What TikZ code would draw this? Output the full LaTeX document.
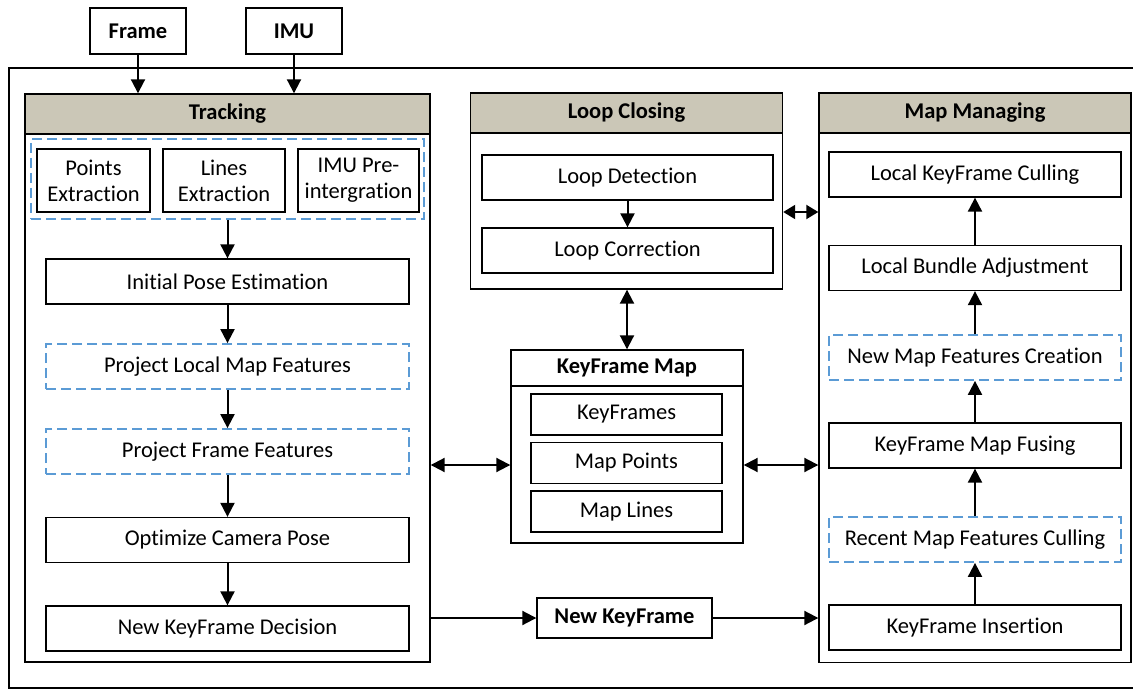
\documentclass[tikz,border=0pt]{standalone}
\usepackage{fontspec}
\setmainfont{Carlito}[Ligatures=NoCommon]
\usetikzlibrary{arrows.meta}
\definecolor{hdr}{RGB}{203,199,183}
\definecolor{dblue}{RGB}{91,155,213}
\tikzset{
  base/.style={rectangle, inner sep=0pt, font=\fontsize{22.5}{26}\selectfont, align=center},
  sbox/.style={base, draw=black, line width=1.3pt, fill=white},
  dbox/.style={base, draw=dblue, line width=1.8pt, dash pattern=on 10pt off 5pt},
  cont/.style={base, draw=black, line width=1.4pt},
  hbox/.style={base, draw=black, line width=1.4pt, fill=hdr, font=\fontsize{22.5}{26}\selectfont\bfseries},
  bbox/.style={base, draw=black, line width=1.4pt, font=\fontsize{22.5}{26}\selectfont\bfseries},
  arr/.style={line width=2pt, -{Triangle[length=14pt,width=14pt]}},
  darr/.style={line width=2pt, {Triangle[length=14pt,width=14pt]}-{Triangle[length=14pt,width=14pt]}},
  sdarr/.style={line width=2pt, {Triangle[length=12pt,width=14pt]}-{Triangle[length=12pt,width=14pt]}}
}
\begin{document}
\begin{tikzpicture}[x=1pt,y=-1pt]
\useasboundingbox (0,0) rectangle (1133,690);
\clip (0,0) rectangle (1133,690);
% outer frame
\draw[line width=2.4pt] (9,68) rectangle (1160,688);
% inputs
\node[bbox, minimum width=96pt, minimum height=46pt] (frame) at (138,31) {Frame};
\node[bbox, minimum width=96pt, minimum height=46pt] (imu) at (294,31) {IMU};
% Tracking
\node[cont, minimum width=405pt, minimum height=568pt] (trk) at (227.5,378) {};
\node[hbox, minimum width=405pt, minimum height=40pt] (trkh) at (227.5,114) {Tracking};
\node[dbox, minimum width=393pt, minimum height=80pt] (grp) at (227.5,179) {};
\node[sbox, minimum width=113pt, minimum height=63pt] (pts) at (93.5,180.5) {Points\\Extraction};
\node[sbox, minimum width=122pt, minimum height=63pt] (lns) at (224,180.5) {Lines\\Extraction};
\node[sbox, minimum width=121pt, minimum height=63pt] (imup) at (358.5,180.5) {IMU Pre-\\intergration};
\node[sbox, minimum width=363pt, minimum height=45pt] (ipe) at (227.5,281.5) {Initial Pose Estimation};
\node[dbox, minimum width=363pt, minimum height=45pt] (plmf) at (227.5,366.5) {Project Local Map Features};
\node[dbox, minimum width=363pt, minimum height=45pt] (pff) at (227.5,451.5) {Project Frame Features};
\node[sbox, minimum width=363pt, minimum height=45pt] (ocp) at (227.5,540) {Optimize Camera Pose};
\node[sbox, minimum width=363pt, minimum height=45pt] (nkd) at (227.5,628.5) {New KeyFrame Decision};
% Loop Closing
\node[cont, minimum width=312pt, minimum height=196pt] (lcl) at (626.5,191) {};
\node[hbox, minimum width=312pt, minimum height=40pt] (lclh) at (626.5,113) {Loop Closing};
\node[sbox, minimum width=291pt, minimum height=45pt] (ld) at (627.5,177.5) {Loop Detection};
\node[sbox, minimum width=291pt, minimum height=45pt] (lc) at (627.5,250.5) {Loop Correction};
% Map Managing
\node[cont, minimum width=312pt, minimum height=569pt] (mm) at (975,378) {};
\node[hbox, minimum width=312pt, minimum height=40pt] (mmh) at (975,113) {Map Managing};
\node[sbox, minimum width=292pt, minimum height=45pt] (lkc) at (975,174.5) {Local KeyFrame Culling};
\node[sbox, minimum width=292pt, minimum height=45pt] (lba) at (975,268) {Local Bundle Adjustment};
\node[dbox, minimum width=292pt, minimum height=45pt] (nmfc) at (975,357.5) {New Map Features Creation};
\node[sbox, minimum width=292pt, minimum height=45pt] (kmf) at (975,445.5) {KeyFrame Map Fusing};
\node[dbox, minimum width=292pt, minimum height=45pt] (rmfc) at (975,539.5) {Recent Map Features Culling};
\node[sbox, minimum width=292pt, minimum height=45pt] (kfi) at (975,627.5) {KeyFrame Insertion};
% KeyFrame Map
\node[cont, minimum width=232pt, minimum height=193pt] (kfm) at (627,446.5) {};
\node[bbox, minimum width=232pt, minimum height=36pt] (kfmh) at (627,368) {KeyFrame Map};
\node[sbox, minimum width=191pt, minimum height=41pt] (kfs) at (626.5,414.5) {KeyFrames};
\node[sbox, minimum width=191pt, minimum height=41pt] (mpt) at (626.5,463) {Map Points};
\node[sbox, minimum width=191pt, minimum height=41pt] (mln) at (626.5,511.5) {Map Lines};
% New KeyFrame
\node[bbox, minimum width=175pt, minimum height=40pt] (nkf) at (624.5,618) {New KeyFrame};
% connectors
\draw[arr] (frame.south) -- (frame.south |- trk.north);
\draw[arr] (imu.south) -- (imu.south |- trk.north);
\draw[arr] (grp.south -| ipe.north) -- (ipe.north);
\draw[arr] (ipe) -- (plmf);
\draw[arr] (plmf) -- (pff);
\draw[arr] (pff) -- (ocp);
\draw[arr] (ocp) -- (nkd);
\draw[arr] (ld) -- (lc);
\draw[arr] (kfi) -- (rmfc);
\draw[arr] (rmfc) -- (kmf);
\draw[arr] (kmf) -- (nmfc);
\draw[arr] (nmfc) -- (lba);
\draw[arr] (lba) -- (lkc);
\draw[darr] (lcl.south -| kfm.north) -- (kfm.north);
\draw[darr] (trk.east |- 0,465) -- (kfm.west |- 0,465);
\draw[darr] (kfm.east |- 0,465) -- (mm.west |- 0,465);
\draw[sdarr] (lcl.east |- 0,212) -- (mm.west |- 0,212);
\draw[arr] (trk.east |- nkf.west) -- (nkf.west);
\draw[arr] (nkf.east) -- (mm.west |- nkf.east);
\end{tikzpicture}
\end{document}
